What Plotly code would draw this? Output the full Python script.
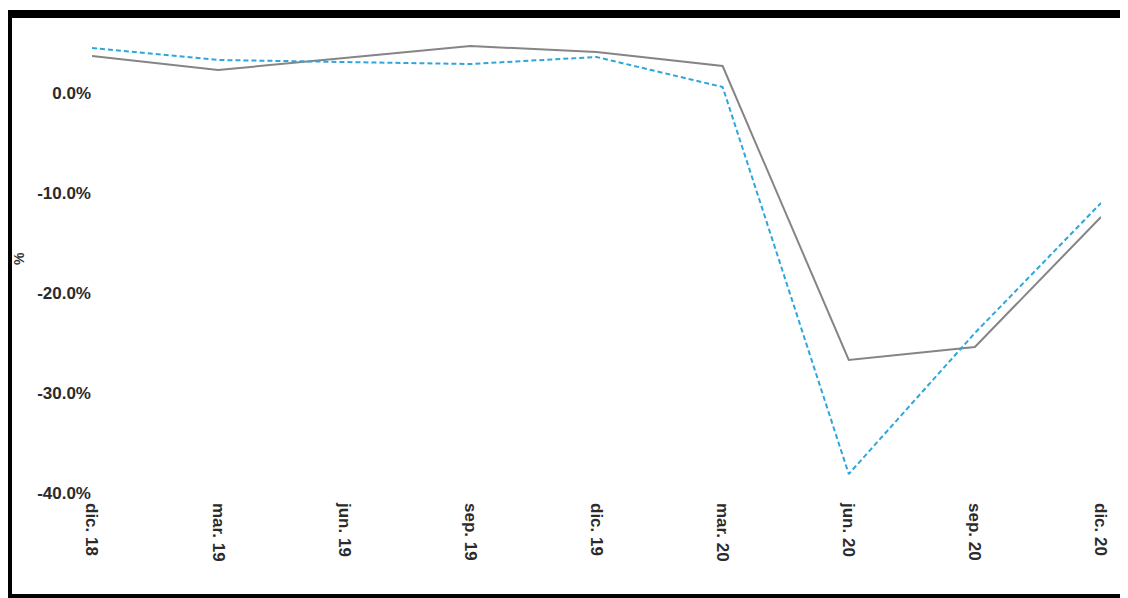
import plotly.graph_objects as go

# ---- data ----
categories = ["dic. 18", "mar. 19", "jun. 19", "sep. 19", "dic. 19",
              "mar. 20", "jun. 20", "sep. 20", "dic. 20"]
series_gray = [3.7, 2.3, 3.5, 4.7, 4.1, 2.7, -26.7, -25.4, -12.4]
series_blue = [4.5, 3.3, 3.1, 2.9, 3.6, 0.6, -38.1, -24.0, -11.0]
y_ticks = [0, -10, -20, -30, -40]

# page body has an 8px margin; figure sized to fit the 1128x598 window
OFF = 8
W, H = 1120, 590
L, R, T, B = 84, 27, 20, 105
pw, ph = W - L - R, H - T - B


def px_x(p):  # p in page pixels
    return (p - OFF - L) / pw


def px_y(p):
    return (H - B - (p - OFF)) / ph


fig = go.Figure()
fig.add_trace(go.Scatter(x=categories, y=series_gray, mode="lines",
                         line=dict(color="#858585", width=2), showlegend=False))
fig.add_trace(go.Scatter(x=categories, y=series_blue, mode="lines",
                         line=dict(color="#2ea6dc", width=2, dash="5px,3px"),
                         showlegend=False))

fam = "Liberation Sans, Arial, sans-serif"
tcol = "#2b2b2b"

fig.update_layout(
    width=W, height=H,
    margin=dict(l=L, r=R, t=T, b=B),
    paper_bgcolor="white", plot_bgcolor="white",
    xaxis=dict(type="category", range=[0, 8], showgrid=False, zeroline=False,
               showline=False, ticks="", tickangle=90, ticklabelstandoff=9,
               tickfont=dict(family=fam, size=17, color=tcol, weight="bold")),
    yaxis=dict(range=[-40, 6.5], tickvals=y_ticks,
               ticktext=[f"{v:.1f}%" for v in y_ticks],
               showgrid=False, zeroline=False, showline=False, ticks="",
               tickfont=dict(family=fam, size=17, color=tcol, weight="bold")),
    annotations=[dict(text="%", xref="paper", yref="paper", x=px_x(19), y=px_y(259),
                      xanchor="center", yanchor="middle",
                      showarrow=False, textangle=-90,
                      font=dict(family=fam, size=14, color="#333", weight="bold"))],
    shapes=[
        dict(type="rect", xref="paper", yref="paper", x0=px_x(0), x1=px_x(1130),
             y0=px_y(10), y1=px_y(18), fillcolor="black", line=dict(width=0), layer="above"),
        dict(type="rect", xref="paper", yref="paper", x0=px_x(0), x1=px_x(12),
             y0=px_y(10), y1=px_y(598), fillcolor="black", line=dict(width=0), layer="above"),
        dict(type="rect", xref="paper", yref="paper", x0=px_x(0), x1=px_x(1130),
             y0=px_y(594), y1=px_y(598), fillcolor="black", line=dict(width=0), layer="above"),
    ],
)

fig.write_html("out.html")
